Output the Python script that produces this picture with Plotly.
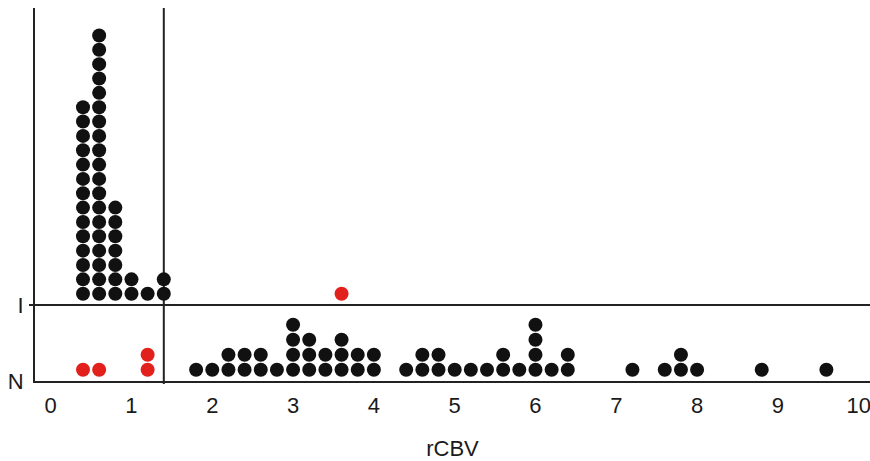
import plotly.graph_objects as go

# ---- data (rCBV bins and number of patients per bin) ----
i_black_rcbv = [0.4, 0.6, 0.8, 1.0, 1.2, 1.4]
i_black_count = [14, 19, 7, 2, 1, 2]
i_red_rcbv = [3.6]
i_red_count = [1]

n_red_rcbv = [0.4, 0.6, 1.2]
n_red_count = [1, 1, 2]
n_black_rcbv = [1.8, 2.0, 2.2, 2.4, 2.6, 2.8, 3.0, 3.2, 3.4, 3.6, 3.8, 4.0,
                4.4, 4.6, 4.8, 5.0, 5.2, 5.4, 5.6, 5.8, 6.0, 6.2, 6.4,
                7.2, 7.6, 7.8, 8.0, 8.8, 9.6]
n_black_count = [1, 1, 2, 2, 2, 1, 4, 3, 2, 3, 2, 2,
                 1, 2, 2, 1, 1, 1, 2, 1, 4, 1, 2,
                 1, 1, 2, 1, 1, 1]

group_labels = ["N", "I"]
group_pos = [0, 1]
threshold = 1.4
x_ticks = list(range(0, 11))

BLACK = "#111111"
RED = "#e3211c"
LINE = "#222222"
FONT = "Liberation Sans, Arial, sans-serif"


def stack(values, counts, base, first, step):
    xs, ys = [], []
    for v, c in zip(values, counts):
        for k in range(c):
            xs.append(v)
            ys.append(base + first + k * step)
    return xs, ys


fig = go.Figure()
series = [
    (i_black_rcbv, i_black_count, group_pos[1], 0.1886, BLACK),
    (i_red_rcbv, i_red_count, group_pos[1], 0.1886, RED),
    (n_black_rcbv, n_black_count, group_pos[0], 0.197, BLACK),
    (n_red_rcbv, n_red_count, group_pos[0], 0.197, RED),
]
for vals, cnts, base, step, col in series:
    xs, ys = stack(vals, cnts, base, 0.148, step)
    fig.add_trace(go.Scatter(
        x=xs, y=ys, mode="markers",
        marker=dict(size=14, color=col, line=dict(width=0)),
        showlegend=False, hoverinfo="x"))

plot_w = 870 - 35
# horizontal separator at I (extends slightly left as a tick)
fig.add_shape(type="line", xref="paper", yref="y",
              x0=-6 / plot_w, x1=1, y0=group_pos[1], y1=group_pos[1],
              line=dict(color=LINE, width=2), layer="below")
# vertical threshold line
fig.add_shape(type="line", xref="x", yref="paper",
              x0=threshold, x1=threshold, y0=-3 / 373, y1=1,
              line=dict(color=LINE, width=2), layer="below")

fig.update_layout(
    width=870, height=461,
    margin=dict(l=35, r=0, t=8, b=80, autoexpand=False),
    paper_bgcolor="white", plot_bgcolor="white",
    font=dict(family=FONT, size=22, color="#1a1a1a"),
    xaxis=dict(
        range=[-0.194, 10.14],
        tickvals=x_ticks, ticktext=[str(t) for t in x_ticks],
        showgrid=False, zeroline=False,
        showline=True, linecolor=LINE, linewidth=2,
        ticks="", ticklabelstandoff=4, ticklabeloverflow="allow",
        title=dict(text="rCBV", standoff=24, font=dict(size=22)),
    ),
    yaxis=dict(
        range=[0, 4.904],
        tickvals=group_pos, ticktext=group_labels,
        showgrid=False, zeroline=False,
        showline=True, linecolor=LINE, linewidth=2,
        ticks="", ticklabelstandoff=5,
    ),
)

fig.write_html(
    "out.html",
    config={"displayModeBar": False},
    post_script="document.body.style.margin='0';"
                "document.body.style.overflow='hidden';",
)
